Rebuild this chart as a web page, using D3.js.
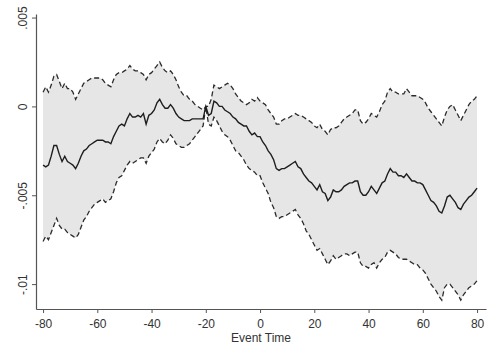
<!DOCTYPE html>
<html>

<head>
    <meta charset="utf-8">
    <title>Event study</title>
    <script src="https://d3js.org/d3.v7.min.js"></script>
    <style>
        html,
        body {
            margin: 0;
            padding: 0;
            background: white;
        }

        text {
            font-family: "Liberation Sans", Arial, sans-serif;
        }
    </style>
</head>

<body>

    <div id="chart"></div>

    <script>
        // Event time (x) -80 .. 80
        const eventTime = [
            -80, -79, -78, -77, -76, -75, -74, -73, -72, -71, -70, -69, -68, -67, -66, -65, -64, -63, -62, -61,
            -60, -59, -58, -57, -56, -55, -54, -53, -52, -51, -50, -49, -48, -47, -46, -45, -44, -43, -42, -41,
            -40, -39, -38, -37, -36, -35, -34, -33, -32, -31, -30, -29, -28, -27, -26, -25, -24, -23, -22, -21,
            -20, -19, -18, -17, -16, -15, -14, -13, -12, -11, -10, -9, -8, -7, -6, -5, -4, -3, -2, -1,
            0, 1, 2, 3, 4, 5, 6, 7, 8, 9, 10, 11, 12, 13, 14, 15, 16, 17, 18, 19,
            20, 21, 22, 23, 24, 25, 26, 27, 28, 29, 30, 31, 32, 33, 34, 35, 36, 37, 38, 39,
            40, 41, 42, 43, 44, 45, 46, 47, 48, 49, 50, 51, 52, 53, 54, 55, 56, 57, 58, 59,
            60, 61, 62, 63, 64, 65, 66, 67, 68, 69, 70, 71, 72, 73, 74, 75, 76, 77, 78, 79, 80
        ];

        // point estimate (solid line)
        const coef = [
            -0.0033, -0.0034, -0.0033, -0.0028, -0.0022, -0.0022, -0.0027, -0.0031, -0.0028, -0.0031,
            -0.0032, -0.0033, -0.0035, -0.0032, -0.0028, -0.0025, -0.0024, -0.0022, -0.0021, -0.0020,
            -0.0019, -0.0019, -0.0019, -0.0020, -0.0020, -0.0021, -0.0017, -0.0014, -0.0011, -0.0010,
            -0.0011, -0.0007, -0.0004, -0.0006, -0.0006, -0.0005, -0.0006, -0.0004, -0.0010, -0.0005,
            -0.0004, -0.0002, 0.0002, 0.0004, 0.0001, -0.0001, -0.0001, 0.0001, -0.0001, -0.0004,
            -0.0006, -0.0007, -0.0008, -0.0008, -0.0008, -0.0007, -0.0007, -0.0007, -0.0007, -0.0007,
            0.0000, -0.0005, -0.0004, 0.0003, 0.0002, 0.0000, 0.0000, -0.0002, -0.0003, -0.0004,
            -0.0006, -0.0007, -0.0009, -0.0010, -0.0011, -0.0011, -0.0014, -0.0016, -0.0015, -0.0017,
            -0.0017, -0.0020, -0.0022, -0.0025, -0.0027, -0.0030, -0.0035, -0.0036, -0.0035, -0.0035,
            -0.0034, -0.0033, -0.0032, -0.0031, -0.0034, -0.0035, -0.0038, -0.0040, -0.0042, -0.0043,
            -0.0045, -0.0047, -0.0044, -0.0048, -0.0049, -0.0053, -0.0051, -0.0047, -0.0048, -0.0048,
            -0.0047, -0.0045, -0.0044, -0.0043, -0.0043, -0.0042, -0.0042, -0.0048, -0.0050, -0.0050,
            -0.0048, -0.0045, -0.0047, -0.0049, -0.0046, -0.0043, -0.0042, -0.0038, -0.0035, -0.0037,
            -0.0037, -0.0039, -0.0039, -0.0040, -0.0038, -0.0040, -0.0042, -0.0042, -0.0043, -0.0043,
            -0.0044, -0.0047, -0.0050, -0.0053, -0.0054, -0.0056, -0.0059, -0.0060, -0.0056, -0.0051,
            -0.0050, -0.0052, -0.0054, -0.0057, -0.0058, -0.0055, -0.0053, -0.0051, -0.0050, -0.0048,
            -0.0046
        ];

        // upper confidence bound (dashed)
        const ciUpper = [
            0.0008, 0.0011, 0.0008, 0.0012, 0.0017, 0.0018, 0.0014, 0.0010, 0.0013, 0.0010,
            0.0010, 0.0008, 0.0004, 0.0007, 0.0010, 0.0013, 0.0014, 0.0015, 0.0016, 0.0016,
            0.0016, 0.0016, 0.0015, 0.0013, 0.0012, 0.0011, 0.0015, 0.0018, 0.0019, 0.0019,
            0.0020, 0.0021, 0.0023, 0.0021, 0.0020, 0.0020, 0.0019, 0.0018, 0.0015, 0.0018,
            0.0019, 0.0021, 0.0023, 0.0025, 0.0022, 0.0020, 0.0019, 0.0020, 0.0018, 0.0015,
            0.0011, 0.0008, 0.0006, 0.0006, 0.0004, 0.0003, 0.0001, 0.0000, -0.0001, -0.0002,
            0.0000, 0.0000, 0.0004, 0.0012, 0.0011, 0.0010, 0.0011, 0.0012, 0.0013, 0.0012,
            0.0010, 0.0007, 0.0005, 0.0003, 0.0002, 0.0001, 0.0002, 0.0004, 0.0003, 0.0005,
            0.0003, 0.0002, 0.0001, -0.0002, -0.0004, -0.0006, -0.0010, -0.0010, -0.0008, -0.0007,
            -0.0007, -0.0006, -0.0005, -0.0004, -0.0005, -0.0005, -0.0006, -0.0007, -0.0008, -0.0009,
            -0.0011, -0.0012, -0.0010, -0.0013, -0.0014, -0.0016, -0.0013, -0.0012, -0.0012, -0.0011,
            -0.0009, -0.0007, -0.0006, -0.0005, -0.0004, -0.0002, -0.0002, -0.0008, -0.0010, -0.0009,
            -0.0007, -0.0004, -0.0005, -0.0006, -0.0003, 0.0001, 0.0003, 0.0008, 0.0010, 0.0008,
            0.0008, 0.0007, 0.0007, 0.0007, 0.0010, 0.0008, 0.0006, 0.0006, 0.0006, 0.0005,
            0.0004, 0.0002, -0.0001, -0.0003, -0.0005, -0.0007, -0.0009, -0.0011, -0.0006, -0.0002,
            0.0000, 0.0001, -0.0002, -0.0005, -0.0008, -0.0005, -0.0002, 0.0001, 0.0003, 0.0004,
            0.0006
        ];

        // lower confidence bound (dashed)
        const ciLower = [
            -0.0076, -0.0073, -0.0075, -0.0071, -0.0067, -0.0063, -0.0067, -0.0069, -0.0069, -0.0071,
            -0.0072, -0.0073, -0.0074, -0.0072, -0.0068, -0.0064, -0.0062, -0.0059, -0.0057, -0.0055,
            -0.0054, -0.0053, -0.0052, -0.0054, -0.0053, -0.0052, -0.0048, -0.0043, -0.0040, -0.0039,
            -0.0036, -0.0033, -0.0031, -0.0032, -0.0031, -0.0030, -0.0029, -0.0029, -0.0032, -0.0028,
            -0.0026, -0.0024, -0.0020, -0.0018, -0.0020, -0.0021, -0.0019, -0.0016, -0.0018, -0.0021,
            -0.0022, -0.0023, -0.0023, -0.0022, -0.0021, -0.0019, -0.0017, -0.0015, -0.0013, -0.0011,
            0.0000, -0.0010, -0.0011, -0.0006, -0.0008, -0.0011, -0.0014, -0.0016, -0.0017, -0.0019,
            -0.0022, -0.0025, -0.0026, -0.0028, -0.0030, -0.0033, -0.0035, -0.0036, -0.0037, -0.0039,
            -0.0039, -0.0043, -0.0046, -0.0049, -0.0054, -0.0057, -0.0062, -0.0063, -0.0062, -0.0062,
            -0.0061, -0.0060, -0.0059, -0.0058, -0.0061, -0.0063, -0.0066, -0.0070, -0.0072, -0.0075,
            -0.0078, -0.0081, -0.0080, -0.0083, -0.0086, -0.0089, -0.0087, -0.0084, -0.0086, -0.0085,
            -0.0084, -0.0083, -0.0083, -0.0084, -0.0083, -0.0082, -0.0082, -0.0088, -0.0090, -0.0090,
            -0.0091, -0.0089, -0.0088, -0.0091, -0.0088, -0.0086, -0.0085, -0.0082, -0.0081, -0.0082,
            -0.0083, -0.0085, -0.0086, -0.0086, -0.0086, -0.0087, -0.0088, -0.0089, -0.0089, -0.0091,
            -0.0092, -0.0094, -0.0097, -0.0100, -0.0102, -0.0104, -0.0107, -0.0109, -0.0102, -0.0100,
            -0.0100, -0.0102, -0.0104, -0.0106, -0.0109, -0.0106, -0.0104, -0.0102, -0.0101, -0.0100,
            -0.0098
        ];

        const xTicks = [-80, -60, -40, -20, 0, 20, 40, 60, 80];
        const xTickLabels = ["-80", "-60", "-40", "-20", "0", "20", "40", "60", "80"];
        const yTicks = [0.005, 0, -0.005, -0.01];
        const yTickLabels = [".005", "0", "-.005", "-.01"];
        const xTitle = "Event Time";

        const dataset = eventTime.map((t, i) => ({
            t: t,
            b: coef[i],
            hi: ciUpper[i],
            lo: ciLower[i]
        }));

        const width = 488;
        const height = 346;

        // plot region edges (px)
        const plot = { left: 36, right: 486, top: 14, bottom: 309 };

        const svg = d3.select("#chart")
            .append("svg")
            .attr("width", width)
            .attr("height", height);

        svg.append("rect")
            .attr("width", width)
            .attr("height", height)
            .style("fill", "white");

        // scales: domains are the ends of the axis lines
        const xScale = d3.scaleLinear()
            .domain([-82.6, 83.3])
            .range([plot.left, plot.right]);

        const yScale = d3.scaleLinear()
            .domain([0.0052, -0.0114])
            .range([plot.top, plot.bottom]);

        // shaded confidence band
        const area = d3.area()
            .x((d) => xScale(d.t))
            .y0((d) => yScale(d.lo))
            .y1((d) => yScale(d.hi));

        svg.append("path")
            .datum(dataset)
            .attr("fill", "#e6e6e6")
            .attr("stroke", "none")
            .attr("d", area);

        // dashed bounds
        const upperLine = d3.line()
            .x((d) => xScale(d.t))
            .y((d) => yScale(d.hi));
        const lowerLine = d3.line()
            .x((d) => xScale(d.t))
            .y((d) => yScale(d.lo));

        [upperLine, lowerLine].forEach((gen) => {
            svg.append("path")
                .datum(dataset)
                .attr("fill", "none")
                .attr("stroke", "#2b2b2b")
                .attr("stroke-width", 1.3)
                .attr("stroke-dasharray", "5,3")
                .attr("d", gen);
        });

        // point estimate
        const line = d3.line()
            .x((d) => xScale(d.t))
            .y((d) => yScale(d.b));

        svg.append("path")
            .datum(dataset)
            .attr("fill", "none")
            .attr("stroke", "#1e1e1e")
            .attr("stroke-width", 1.4)
            .attr("d", line);

        // X axis
        const xAxis = svg.append("g")
            .attr("transform", `translate(0,${plot.bottom})`)
            .call(d3.axisBottom(xScale)
                .tickValues(xTicks)
                .tickFormat((d, i) => xTickLabels[i])
                .tickSize(4)
                .tickSizeOuter(0)
                .tickPadding(6));

        // Y axis
        const yAxis = svg.append("g")
            .attr("transform", `translate(${plot.left},0)`)
            .call(d3.axisLeft(yScale)
                .tickValues(yTicks)
                .tickFormat((d, i) => yTickLabels[i])
                .tickSize(4)
                .tickSizeOuter(0));

        yAxis.selectAll(".tick text")
            .attr("transform", "rotate(-90)")
            .attr("x", 0)
            .attr("y", -9)
            .attr("dy", 0)
            .attr("text-anchor", "middle");

        [xAxis, yAxis].forEach((ax) => {
            ax.select(".domain").attr("stroke", "#555").attr("stroke-width", 1.2);
            ax.selectAll(".tick line").attr("stroke", "#555");
            ax.selectAll(".tick text")
                .attr("fill", "#333")
                .style("font-size", "12px")
                .style("font-family", "'Liberation Sans', Arial, sans-serif");
        });

        // axis title
        svg.append("text")
            .attr("x", (plot.left + plot.right) / 2)
            .attr("y", 342)
            .attr("text-anchor", "middle")
            .attr("fill", "#333")
            .style("font-size", "12px")
            .text(xTitle);
    </script>
</body>

</html>
